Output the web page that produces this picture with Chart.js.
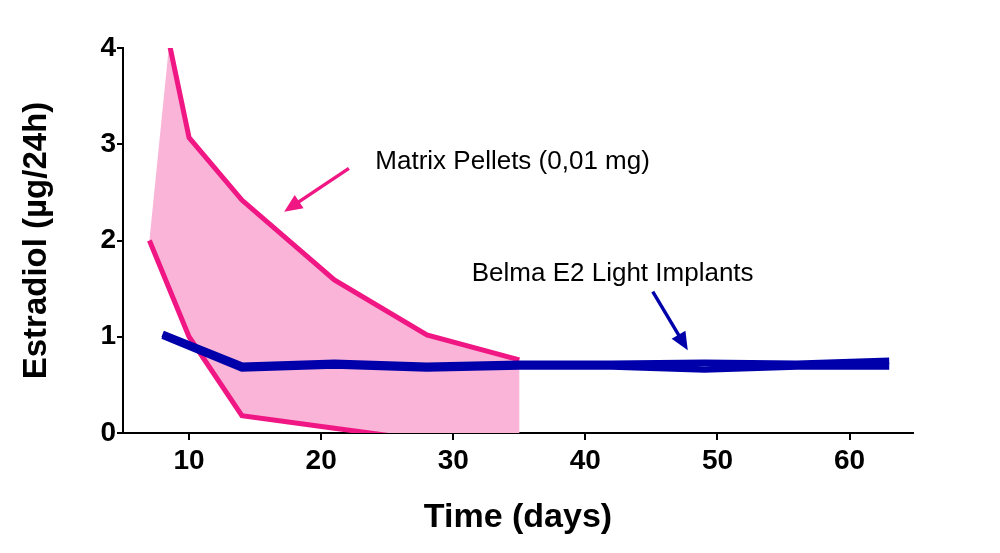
<!DOCTYPE html>
<html><head><meta charset="utf-8">
<script src="https://cdn.jsdelivr.net/npm/chart.js@4/dist/chart.umd.min.js"></script>
<style>html,body{margin:0;padding:0;background:#fff}#wrap{width:1000px;height:553px}</style>
</head><body><div id="wrap"><canvas id="c" width="1000" height="553"></canvas></div>
<script>
// ---- data ----
const matrixUpperDays = [8.5, 10, 14, 21, 28, 35];
const matrixUpperVals = [4.05, 3.07, 2.42, 1.59, 1.02, 0.76];
const matrixLowerDays = [7, 10, 14, 21, 28, 35];
const matrixLowerVals = [2.0, 1.0, 0.18, 0.05, -0.08, -0.18];
const belmaDays = [8, 14, 21, 28, 35, 42, 49, 56, 63];
const belmaValsA = [1.03, 0.70, 0.73, 0.70, 0.72, 0.72, 0.73, 0.72, 0.75];
const belmaValsB = [1.01, 0.67, 0.70, 0.67, 0.69, 0.69, 0.66, 0.69, 0.69];
const xTickValues = [10, 20, 30, 40, 50, 60];
const yTickValues = [0, 1, 2, 3, 4];
const xTitle = 'Time (days)';
const yTitle = 'Estradiol (µg/24h)';
const matrixLabel = 'Matrix Pellets (0,01 mg)';
const belmaLabel = 'Belma E2 Light Implants';
// annotation anchors in data units (day, value)
const matrixTextAt = [24.1, 2.74];
const matrixArrow = [[22.1, 2.75], [17.2, 2.30]];
const belmaTextAt = [31.4, 1.58];
const belmaArrow = [[45.1, 1.47], [47.75, 0.86]];

const PINK = 'rgb(240,22,132)';
const FILL = 'rgb(249,180,215)';
const BLUE = 'rgb(0,0,170)';
const FONT = '"Liberation Sans", Arial, sans-serif';

const pts = (xs, ys) => xs.map((x, i) => ({x, y: ys[i]}));
const polygon = pts(matrixUpperDays, matrixUpperVals)
  .concat(pts(matrixLowerDays, matrixLowerVals).reverse());

const annot = {
  id: 'annot',
  afterDatasetsDraw(chart) {
    const {ctx, scales: {x, y}} = chart;
    const P = (p) => [x.getPixelForValue(p[0]), y.getPixelForValue(p[1])];
    function arrow(a, color) {
      const [x0, y0] = P(a[0]), [x1, y1] = P(a[1]);
      const ang = Math.atan2(y1 - y0, x1 - x0);
      const hl = 18, hw = 8;
      ctx.save();
      ctx.strokeStyle = color; ctx.fillStyle = color; ctx.lineWidth = 3.4;
      ctx.beginPath(); ctx.moveTo(x0, y0);
      ctx.lineTo(x1 - Math.cos(ang) * hl * 0.8, y1 - Math.sin(ang) * hl * 0.8); ctx.stroke();
      ctx.beginPath();
      ctx.moveTo(x1, y1);
      ctx.lineTo(x1 - Math.cos(ang) * hl - Math.sin(ang) * hw, y1 - Math.sin(ang) * hl + Math.cos(ang) * hw);
      ctx.lineTo(x1 - Math.cos(ang) * hl + Math.sin(ang) * hw, y1 - Math.sin(ang) * hl - Math.cos(ang) * hw);
      ctx.closePath(); ctx.fill();
      ctx.restore();
    }
    ctx.save();
    ctx.fillStyle = '#000';
    ctx.font = '26px ' + FONT;
    ctx.textAlign = 'left'; ctx.textBaseline = 'alphabetic';
    let p = P(matrixTextAt); ctx.fillText(matrixLabel, p[0], p[1]);
    p = P(belmaTextAt); ctx.fillText(belmaLabel, p[0], p[1]);
    ctx.restore();
    arrow(matrixArrow, PINK);
    arrow(belmaArrow, BLUE);
  }
};

new Chart(document.getElementById('c'), {
  type: 'line',
  data: {
    datasets: [
      {data: polygon, fill: 'shape', backgroundColor: FILL, borderWidth: 0, pointRadius: 0, order: 10, clip: 0, tension: 0},
      {data: pts(matrixUpperDays, matrixUpperVals), borderColor: PINK, borderWidth: 5, pointRadius: 0, fill: false, order: 5, clip: 0},
      {data: pts(matrixLowerDays, matrixLowerVals), borderColor: PINK, borderWidth: 5, pointRadius: 0, fill: false, order: 4, clip: 0},
      {data: pts(belmaDays, belmaValsB), borderColor: BLUE, borderWidth: 6.5, pointRadius: 0, fill: false, order: 2, clip: 0},
      {data: pts(belmaDays, belmaValsA), borderColor: BLUE, borderWidth: 6.5, pointRadius: 0, fill: false, order: 1, clip: 0}
    ]
  },
  options: {
    responsive: false, animation: false,
    layout: {padding: {left: 0, top: 48, right: 87, bottom: 0}},
    plugins: {legend: {display: false}, tooltip: {enabled: false}},
    elements: {line: {borderJoinStyle: 'miter', borderCapStyle: 'butt'}},
    scales: {
      x: {
        type: 'linear', min: 5, max: 64.8,
        afterBuildTicks: s => { s.ticks = xTickValues.map(v => ({value: v})); },
        afterFit: s => { s.height = 120; },
        grid: {drawOnChartArea: false, drawTicks: true, tickLength: 7, color: '#000', lineWidth: 2},
        border: {display: true, color: '#000', width: 2},
        ticks: {color: '#000', font: {family: FONT, size: 28, weight: 'bold'}, padding: 4, maxRotation: 0},
        title: {display: true, text: xTitle, color: '#000', font: {family: FONT, size: 34, weight: 'bold'}, padding: {top: 0, bottom: 15}}
      },
      y: {
        type: 'linear', min: 0, max: 4,
        afterBuildTicks: s => { s.ticks = yTickValues.map(v => ({value: v})); },
        afterFit: s => { s.width = 123; },
        grid: {drawOnChartArea: false, drawTicks: true, tickLength: 6, color: '#000', lineWidth: 2},
        border: {display: true, color: '#000', width: 2},
        ticks: {color: '#000', font: {family: FONT, size: 28, weight: 'bold'}, padding: 1},
        title: {display: true, text: yTitle, color: '#000', font: {family: FONT, size: 33, weight: 'bold'}, padding: {top: 17, bottom: 0}}
      }
    }
  },
  plugins: [annot]
});
</script></body></html>
